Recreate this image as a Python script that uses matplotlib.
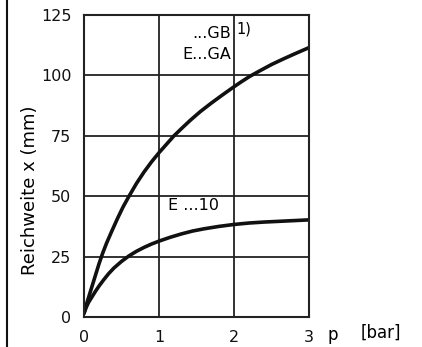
import numpy as np
import matplotlib
matplotlib.use("Agg")
import matplotlib.pyplot as plt
from matplotlib.lines import Line2D
from matplotlib import font_manager as fm

# curve E...GA / ...GB  (p in bar, Reichweite in mm)
p_ga = [0, 0.03, 0.06, 0.1, 0.15, 0.2, 0.25, 0.3, 0.37, 0.45, 0.52, 0.6, 0.7, 0.8, 0.9,
        1.0, 1.1, 1.2, 1.3, 1.42, 1.55, 1.7, 1.85, 2.0, 2.1, 2.21, 2.35, 2.5, 2.65, 2.8, 3.0]
x_ga = [1.5, 5, 8, 12, 17, 22, 26.5, 30.5, 35.5, 41, 45.5, 50, 55.3, 60, 64.2,
        68, 71.5, 75, 78, 81.5, 85, 88.6, 92, 95.3, 97.4, 99.6, 102, 104.5, 106.7, 108.8, 111.5]
# curve E...10
p_10 = [0, 0.03, 0.06, 0.1, 0.15, 0.2, 0.26, 0.33, 0.4, 0.5, 0.6, 0.7, 0.8, 0.9,
        1.0, 1.15, 1.3, 1.45, 1.6, 1.8, 2.0, 2.2, 2.4, 2.6, 2.8, 3.0]
x_10 = [1.5, 4, 6, 8, 10.5, 12.8, 15.3, 18, 20.3, 23, 25.3, 27.2, 28.8, 30.2,
        31.4, 33, 34.4, 35.6, 36.5, 37.5, 38.3, 38.9, 39.3, 39.6, 39.9, 40.2]

xticks = [0, 1, 2, 3]
yticks = [0, 25, 50, 75, 100, 125]

# narrow font for the numbers if there is one
names = set(f.name for f in fm.fontManager.ttflist)
num_font = 'Liberation Sans Narrow' if 'Liberation Sans Narrow' in names else 'DejaVu Sans'
num_size = 13 if num_font != 'DejaVu Sans' else 11.5

fig = plt.figure(figsize=(4.22, 3.47), dpi=100)
ax = fig.add_axes([84/422, 1-317/347, 225/422, 302/347])

for px, vx in [(p_ga, x_ga), (p_10, x_10)]:
    ax.plot(px, vx, color='#111111', lw=2.6, solid_capstyle='round', solid_joinstyle='round')

ax.set_xlim(0, 3)
ax.set_ylim(0, 125)
ax.set_xticks(xticks)
ax.set_yticks(yticks)
ax.grid(color='#222222', lw=1.3)
ax.tick_params(length=0, pad=9, colors='#111111')
for lab in ax.get_xticklabels() + ax.get_yticklabels():
    lab.set_fontfamily(num_font)
    lab.set_fontsize(num_size)
for s in ax.spines.values():
    s.set_linewidth(1.5)
    s.set_color('#222222')

ax.text(1.96, 117.5, '...GB', ha='right', va='center', fontsize=11.5)
ax.text(2.03, 119, '1)', ha='left', va='center', fontsize=10.5)
ax.text(1.96, 108.5, 'E...GA', ha='right', va='center', fontsize=11.5)
ax.text(1.12, 46, 'E ...10', ha='left', va='center', fontsize=11.5)

fig.text(30/422, 1-190/347, 'Reichweite x (mm)', rotation=90, ha='center', va='center', fontsize=13)
fig.text(333/422, 1-335/347, 'p', ha='center', va='center', fontsize=12)
fig.text(381/422, 1-333/347, '[bar]', ha='center', va='center', fontsize=12)

fig.add_artist(Line2D([7/422, 7/422], [0, 1], transform=fig.transFigure, color='#111111', lw=1.5))

fig.savefig('out.png', dpi=100)
